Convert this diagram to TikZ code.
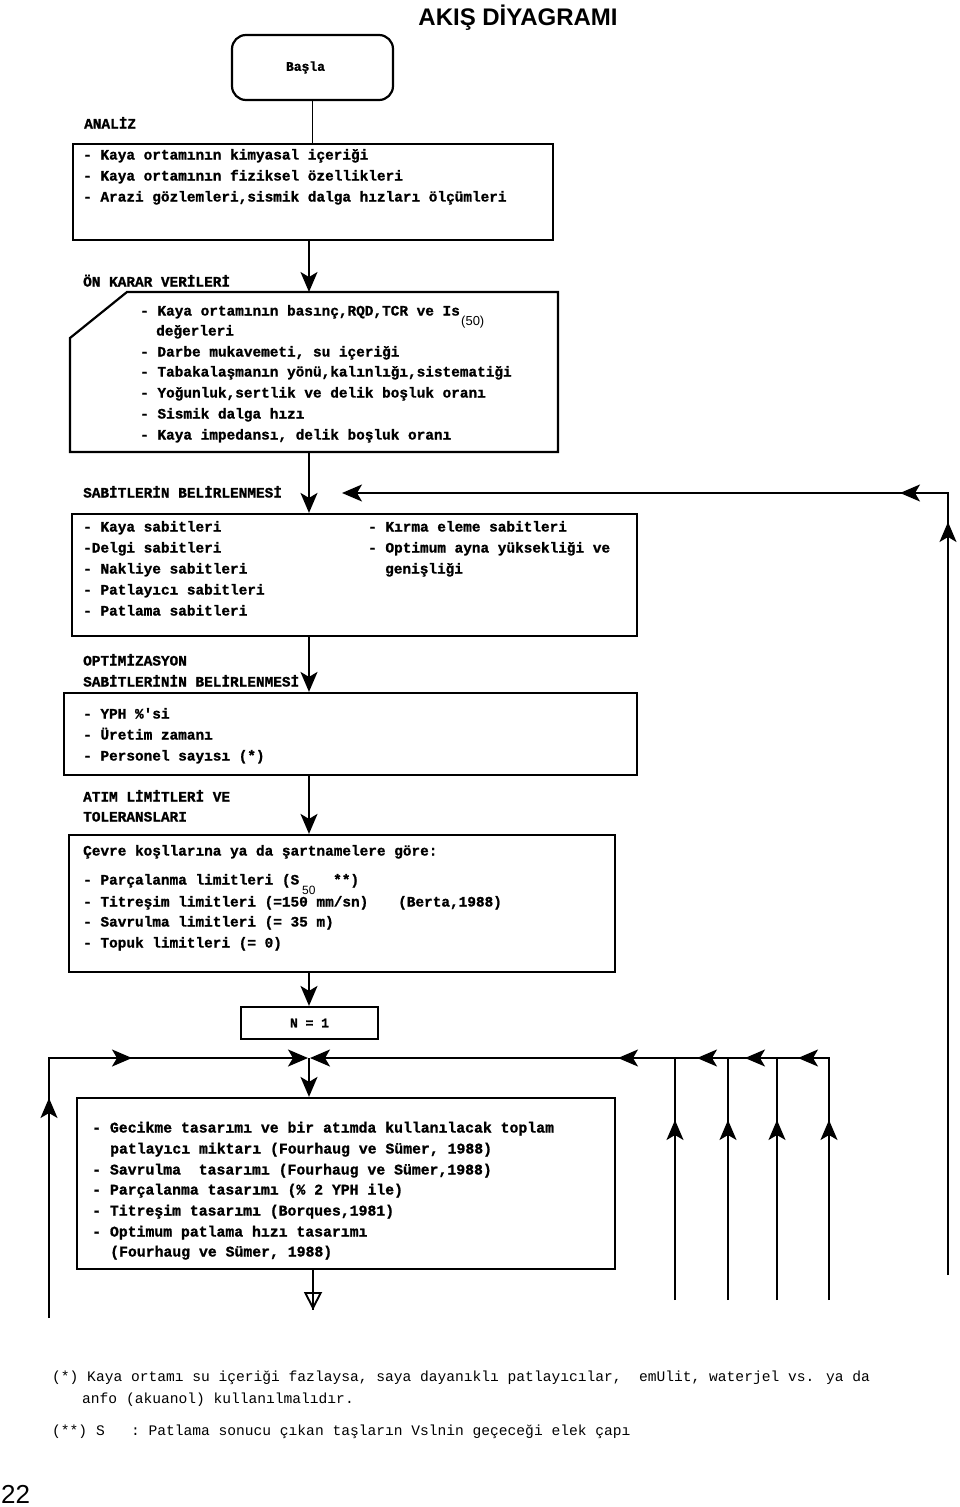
\documentclass[tikz,border=0pt]{standalone}
\usepackage{fontspec}
\setmainfont{Liberation Serif}
\newfontfamily\dmono{Liberation Mono}[BoldFeatures={FakeBold=1.2}]
\newfontfamily\dsans{Liberation Sans}
\usetikzlibrary{arrows.meta,decorations.markings,calc}
\begin{document}
\begin{tikzpicture}[x=1pt,y=-1pt,
  >={Stealth[length=20pt,width=17pt,inset=5pt]},
  box/.style={draw,line width=2.2pt,inner sep=0pt},
  conn/.style={line width=1.9pt},
  txt/.style={anchor=west,inner sep=0pt,text height=10pt,text depth=3pt,
    font={\dmono\bfseries\fontsize{14.4pt}{16pt}\selectfont}},
  btxt/.style={txt,font={\dmono\bfseries\fontsize{14.8pt}{16pt}\selectfont}},
  note/.style={anchor=west,inner sep=0pt,text height=10pt,text depth=3pt,
    font={\dmono\fontsize{14.6pt}{16pt}\selectfont}},
  small/.style={anchor=west,inner sep=0pt,font={\dsans\fontsize{13pt}{14pt}\selectfont}}
]
\useasboundingbox (0,0) rectangle (960,1507);

% title
\node[anchor=base,inner sep=0pt,font={\dsans\bfseries\fontsize{24pt}{26pt}\selectfont}] (title) at (518,25) {AKIŞ DİYAGRAMI};

% start
\node[box,rounded corners=14pt,minimum width=161pt,minimum height=65pt,
  font={\dmono\bfseries\fontsize{13pt}{14pt}\selectfont}] (basla) at (312.5,67.5) {\hspace*{-14pt}Başla};

% ANALIZ
\node[txt] (lA) at (84,125) {ANALİZ};
\node[box,minimum width=480pt,minimum height=96pt] (analiz) at (313,192) {};
\node[txt] (a1) at (83,156) {- Kaya ortamının kimyasal içeriği};
\node[txt] (a2) at (83,177) {- Kaya ortamının fiziksel özellikleri};
\node[txt] (a3) at (83,198) {- Arazi gözlemleri,sismik dalga hızları ölçümleri};

% ON KARAR
\node[txt] (lB) at (83,283) {ÖN KARAR VERİLERİ};
\coordinate (okTop) at (309,292);
\coordinate (okBot) at (309,452);
\draw[line width=2.2pt] (127,292) -- (558,292) -- (558,452) -- (70,452) -- (70,338) -- cycle;
\node[txt] (b1) at (140,312) {- Kaya ortamının basınç,RQD,TCR ve Is};
\node[small] (b1s) at (461,322) {(50)};
\node[txt] (b2) at (156,332) {değerleri};
\node[txt] (b3) at (140,353) {- Darbe mukavemeti, su içeriği};
\node[txt] (b4) at (140,373) {- Tabakalaşmanın yönü,kalınlığı,sistematiği};
\node[txt] (b5) at (140,394) {- Yoğunluk,sertlik ve delik boşluk oranı};
\node[txt] (b6) at (140,415) {- Sismik dalga hızı};
\node[txt] (b7) at (140,436) {- Kaya impedansı, delik boşluk oranı};

% SABITLER
\node[txt] (lC) at (83,494) {SABİTLERİN BELİRLENMESİ};
\node[box,minimum width=565pt,minimum height=122pt] (sabit) at (354.5,575) {};
\node[txt] (c1) at (83,528) {- Kaya sabitleri};
\node[txt] (c2) at (83,549) {-Delgi sabitleri};
\node[txt] (c3) at (83,570) {- Nakliye sabitleri};
\node[txt] (c4) at (83,591) {- Patlayıcı sabitleri};
\node[txt] (c5) at (83,612) {- Patlama sabitleri};
\node[txt] (c6) at (368,528) {- Kırma eleme sabitleri};
\node[txt] (c7) at (368,549) {- Optimum ayna yüksekliği ve};
\node[txt] (c8) at (385,570) {genişliği};

% OPTIMIZASYON
\node[txt] (lD1) at (83,662) {OPTİMİZASYON};
\node[txt] (lD2) at (83,683) {SABİTLERİNİN BELİRLENMESİ};
\node[box,minimum width=573pt,minimum height=82pt] (optim) at (350.5,734) {};
\node[txt] (d1) at (83,715) {- YPH \%'si};
\node[txt] (d2) at (83,736) {- Üretim zamanı};
\node[txt] (d3) at (83,757) {- Personel sayısı (*)};

% ATIM LIMITLERI
\node[txt] (lE1) at (83,798) {ATIM LİMİTLERİ VE};
\node[txt] (lE2) at (83,818) {TOLERANSLARI};
\node[box,minimum width=546pt,minimum height=137pt] (atim) at (342,903.5) {};
\node[txt] (e0) at (83,852) {Çevre koşllarına ya da şartnamelere göre:};
\node[txt] (e1) at (83,881) {- Parçalanma limitleri (S};
\node[small,font={\dsans\fontsize{12pt}{13pt}\selectfont}] (e1s) at (302,890) {50};
\node[txt] (e1b) at (333,881) {**)};
\node[txt] (e2) at (83,903) {- Titreşim limitleri (=150 mm/sn)};
\node[txt] (e2b) at (398,903) {(Berta,1988)};
\node[txt] (e3) at (83,923) {- Savrulma limitleri (= 35 m)};
\node[txt] (e4) at (83,944) {- Topuk limitleri (= 0)};

% N = 1
\node[box,minimum width=137pt,minimum height=32pt,
  font={\dmono\bfseries\fontsize{13pt}{14pt}\selectfont}] (n1) at (309.5,1023) {N = 1};

% bottom box
\node[box,minimum width=538pt,minimum height=171pt] (tasarim) at (346,1183.5) {};
\node[btxt] (f1) at (92,1129) {- Gecikme tasarımı ve bir atımda kullanılacak toplam};
\node[btxt] (f2) at (110,1150) {patlayıcı miktarı (Fourhaug ve Sümer, 1988)};
\node[btxt] (f3) at (92,1171) {- Savrulma~ tasarımı (Fourhaug ve Sümer,1988)};
\node[btxt] (f4) at (92,1191) {- Parçalanma tasarımı (\% 2 YPH ile)};
\node[btxt] (f5) at (92,1212) {- Titreşim tasarımı (Borques,1981)};
\node[btxt] (f6) at (92,1233) {- Optimum patlama hızı tasarımı};
\node[btxt] (f7) at (110,1253) {(Fourhaug ve Sümer, 1988)};

% main trunk connectors
\draw[conn] (basla.south) -- (basla.south |- analiz.north);
\draw[conn,->] (okTop |- analiz.south) -- (okTop);
\draw[conn,->] (okBot) -- (okBot |- sabit.north);
\draw[conn,->] (okBot |- sabit.south) -- (okBot |- optim.north);
\draw[conn,->] (okBot |- optim.south) -- (okBot |- atim.north);
\draw[conn,->] (okBot |- atim.south) -- (okBot |- n1.north);

% feedback loop on the right
\coordinate (fbB) at (948,1275);
\coordinate (fbC) at (948,493);
\coordinate (fbE) at (342,493);
\draw[conn,->,postaction={decorate},decoration={markings,
   mark=at position 753pt with {\arrow{>}},
   mark=at position 830pt with {\arrow{>}}}] (fbB) -- (fbC) -- (fbE);

% lower loop lines
\coordinate (hl) at (49,1058);
\coordinate (hc) at (309,1058);
\coordinate (hr) at (829,1058);
\coordinate (lb) at (49,1318);
\draw[conn,->,postaction={decorate},decoration={markings,
   mark=at position 220pt with {\arrow{>}},
   mark=at position 343pt with {\arrow{>}}}] (lb) -- (hl) -- ($(hc)+(-1,0)$);
\draw[conn,->,postaction={decorate},decoration={markings,
   mark=at position 180pt with {\arrow{>}},
   mark=at position 273pt with {\arrow{>}},
   mark=at position 326pt with {\arrow{>}},
   mark=at position 374pt with {\arrow{>}},
   mark=at position 453pt with {\arrow{>}}}] (829,1300) -- (hr) -- ($(hc)+(1,0)$);
\foreach \xx/\nm in {675/v1,728/v2,777/v3}{
  \coordinate (\nm b) at (\xx,1300);
  \coordinate (\nm t) at (\xx,1058);
  \draw[conn,postaction={decorate},decoration={markings,
     mark=at position 180pt with {\arrow{>}}}] (\nm b) -- (\nm t);
}
\draw[conn,->] (hc) -- (hc |- tasarim.north);

% exit
\coordinate (ex1) at (313,1269);
\coordinate (ex2) at (313,1310);
\draw[conn] (ex1) -- (ex2);
\draw[conn,-{Triangle[open,length=18pt,width=18pt]}] (ex1) -- (ex2);

% footnotes
\node[note] (n1a) at (52,1378) {(*) Kaya ortamı su içeriği fazlaysa, saya dayanıklı patlayıcılar,~ emUlit, waterjel vs. ya da};
\node[note] (n1b) at (82,1400) {anfo (akuanol) kullanılmalıdır.};
\node[note] (n2) at (52,1432) {(**) S~~~: Patlama sonucu çıkan taşların Vslnin geçeceği elek çapı};

\node[anchor=base west,inner sep=0pt,font={\dsans\fontsize{26pt}{28pt}\selectfont}] (pg) at (1,1503) {22};
\end{tikzpicture}
\end{document}
